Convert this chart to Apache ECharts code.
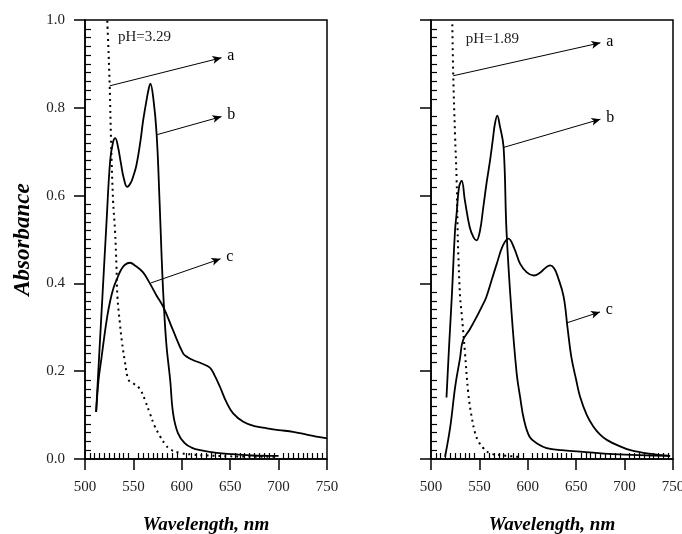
<!DOCTYPE html>
<html>
<head>
<meta charset="utf-8">
<script src="https://cdn.jsdelivr.net/npm/echarts@6/dist/echarts.min.js"></script>
<style>
  html, body { margin: 0; padding: 0; background: #fff; }
  #chart { width: 682px; height: 534px; }
</style>
</head>
<body>
<div id="chart"></div>
<script>
// tick labels / axis ranges
const xTicks = [500, 550, 600, 650, 700, 750];
const yTicks = [0.0, 0.2, 0.4, 0.6, 0.8, 1.0];

// left panel, pH=3.29
const leftA_wl  = [523, 524, 525.5, 527, 529, 531, 532.5, 533.5, 536, 538, 541, 545, 550, 555, 558, 562, 567, 572, 577.5, 583, 588, 598, 612, 626, 650, 700];
const leftA_abs = [0.998, 0.945, 0.85, 0.718, 0.589, 0.52, 0.44, 0.37, 0.31, 0.27, 0.225, 0.18, 0.172, 0.164, 0.155, 0.134, 0.104, 0.075, 0.052, 0.033, 0.022, 0.014, 0.01, 0.008, 0.006, 0.005];

const leftB_wl  = [511.5, 515, 518, 522, 526, 529, 531.3, 534, 537, 540, 543.5, 547, 550, 553, 557, 560, 563, 565.5, 567.5, 570.5, 574, 577, 579, 581, 584, 588, 591, 596, 603, 610, 619, 636, 653, 673, 700];
const leftB_abs = [0.107, 0.25, 0.37, 0.53, 0.68, 0.722, 0.731, 0.712, 0.675, 0.64, 0.62, 0.628, 0.645, 0.668, 0.72, 0.77, 0.81, 0.84, 0.855, 0.823, 0.74, 0.589, 0.47, 0.37, 0.263, 0.18, 0.104, 0.059, 0.036, 0.026, 0.02, 0.014, 0.011, 0.008, 0.007];

const leftC_wl  = [511.5, 514, 517, 520, 523, 526, 529.5, 533, 537, 541, 546.5, 552, 560, 567, 574, 581, 591, 601.5, 606, 612, 620, 629, 634, 639.5, 646, 653, 663.5, 675, 688, 700, 715, 730, 750];
const leftC_abs = [0.107, 0.18, 0.23, 0.28, 0.325, 0.36, 0.39, 0.41, 0.43, 0.442, 0.447, 0.44, 0.425, 0.4, 0.372, 0.346, 0.293, 0.24, 0.232, 0.225, 0.218, 0.208, 0.19, 0.164, 0.13, 0.104, 0.085, 0.075, 0.07, 0.066, 0.062, 0.055, 0.047];

// right panel, pH=1.89
const rightA_wl  = [522, 523, 524.8, 526.5, 527.5, 528, 530, 531.7, 535, 538.5, 542, 545.5, 549, 554, 561, 571, 590];
const rightA_abs = [0.99, 0.873, 0.74, 0.634, 0.52, 0.48, 0.37, 0.33, 0.245, 0.15, 0.096, 0.06, 0.04, 0.025, 0.013, 0.009, 0.005];

const rightB_wl  = [516, 519, 521.5, 524.8, 526.5, 529, 531.7, 535, 540, 544, 547, 550.6, 554, 557.5, 561, 564, 566, 568.5, 571, 575, 578, 583, 588.5, 592, 596, 602, 610, 619.5, 635, 654, 688, 747];
const rightB_abs = [0.14, 0.27, 0.37, 0.52, 0.56, 0.62, 0.634, 0.589, 0.528, 0.505, 0.498, 0.52, 0.573, 0.63, 0.68, 0.73, 0.763, 0.782, 0.76, 0.71, 0.52, 0.34, 0.195, 0.142, 0.09, 0.05, 0.035, 0.025, 0.02, 0.017, 0.011, 0.007];

const rightC_wl  = [514.5, 520, 525, 530, 533, 540, 547, 552, 557, 563, 568, 574, 580, 586, 592, 599, 606, 613, 619, 623, 627, 631, 637, 641, 645, 650, 654, 661, 668, 675, 682, 694, 706, 725, 747];
const rightC_abs = [0.005, 0.075, 0.165, 0.23, 0.27, 0.295, 0.323, 0.345, 0.368, 0.41, 0.445, 0.485, 0.502, 0.48, 0.445, 0.425, 0.418, 0.425, 0.437, 0.441, 0.435, 0.415, 0.37, 0.3, 0.232, 0.18, 0.142, 0.1, 0.073, 0.055, 0.043, 0.03, 0.02, 0.012, 0.007];

const font = "Liberation Serif";
const pairs = (xs, ys) => xs.map((x, i) => [x, ys[i]]);

// arrow + letter
function arrow(from, to, txt) {
  return [
    { coord: from, symbol: "none" },
    { coord: to, symbol: "arrow", label: { formatter: txt } },
  ];
}

function mainAxes(grid, withLabels) {
  const x = {
    type: "value", gridIndex: grid, min: xTicks[0], max: xTicks[xTicks.length - 1], interval: 50,
    axisLine: { lineStyle: { color: "#000", width: 1.5 } },
    axisTick: { length: 11, lineStyle: { color: "#000", width: 1.5 } },
    axisLabel: { margin: 21, fontFamily: font, fontSize: 15, color: "#222" },
    splitLine: { show: false },
    name: "Wavelength, nm", nameLocation: "middle", nameGap: 57,
    nameTextStyle: { fontFamily: font, fontSize: 19, fontWeight: "bold", fontStyle: "italic", color: "#000" },
  };
  const y = {
    type: "value", gridIndex: grid, min: yTicks[0], max: yTicks[yTicks.length - 1], interval: 0.2,
    axisLine: { show: true, lineStyle: { color: "#000", width: 1.5 } },
    axisTick: { show: true, length: 11, lineStyle: { color: "#000", width: 1.5 } },
    axisLabel: { show: withLabels, margin: 20, fontFamily: font, fontSize: 15, color: "#222",
      formatter: (v) => v.toFixed(1) },
    splitLine: { show: false },
  };
  if (withLabels) {
    y.name = "Absorbance";
    y.nameLocation = "middle";
    y.nameGap = 50;
    y.nameTextStyle = { fontFamily: font, fontSize: 23, fontWeight: "bold", fontStyle: "italic", color: "#000" };
  }
  return [x, y];
}

// second set of axes on a twin grid only to draw inward minor ticks
function minorAxes(grid) {
  const common = {
    type: "value", gridIndex: grid,
    axisLine: { show: false }, axisLabel: { show: false },
    axisTick: { show: false, inside: true },
    minorTick: { show: true, splitNumber: 10, length: 6, lineStyle: { color: "#000", width: 1.2 } },
    splitLine: { show: false },
  };
  return [
    Object.assign({}, common, { min: 500, max: 750, interval: 50 }),
    Object.assign({}, common, { min: 0, max: 1, interval: 0.2 }),
  ];
}

const L = mainAxes(0, true), Lm = minorAxes(1);
const R = mainAxes(2, false), Rm = minorAxes(3);

const gridBox = { show: true, borderColor: "#000", borderWidth: 1.5, backgroundColor: "transparent" };
const gridRect = (left) => ({ left: left, top: 20, width: 242, height: 439, containLabel: false, outerBoundsMode: "none" });

function curve(data, axis, dotted) {
  return {
    type: "line", xAxisIndex: axis, yAxisIndex: axis, data: data,
    symbol: "none", smooth: 0.4,
    lineStyle: { color: "#000", width: dotted ? 2 : 1.8, type: dotted ? [2, 4] : "solid" },
    silent: true,
  };
}

const markStyle = {
  silent: true, animation: false,
  symbolSize: [6, 9],
  lineStyle: { color: "#000", width: 1, type: "solid" },
  label: { position: "end", distance: 6, fontFamily: font, fontSize: 16, color: "#000" },
};

function phText(txt, coord) {
  return {
    silent: true, animation: false,
    symbol: "circle", symbolSize: 0,
    label: { show: true, position: "right", distance: 0, formatter: txt, fontFamily: font, fontSize: 15, color: "#222" },
    data: [{ coord: coord }],
  };
}

const leftB = curve(pairs(leftB_wl, leftB_abs), 0, false);
leftB.markLine = Object.assign({}, markStyle, { data: [
  arrow([525.5, 0.85], [641, 0.914], "a"),
  arrow([574.7, 0.739], [641, 0.78], "b"),
  arrow([568, 0.401], [640, 0.456], "c"),
] });
leftB.markPoint = phText("pH=3.29", [534, 0.962]);

const rightB = curve(pairs(rightB_wl, rightB_abs), 2, false);
rightB.markLine = Object.assign({}, markStyle, { data: [
  arrow([523, 0.873], [675, 0.948], "a"),
  arrow([575.4, 0.71], [675, 0.774], "b"),
  arrow([640.2, 0.31], [674.6, 0.335], "c"),
] });
rightB.markPoint = phText("pH=1.89", [536, 0.957]);

const option = {
  animation: false,
  backgroundColor: "#fff",
  grid: [
    Object.assign({}, gridRect(85), gridBox),
    Object.assign({}, gridRect(85), { show: false }),
    Object.assign({}, gridRect(431), gridBox),
    Object.assign({}, gridRect(431), { show: false }),
  ],
  xAxis: [L[0], Lm[0], R[0], Rm[0]],
  yAxis: [L[1], Lm[1], R[1], Rm[1]],
  series: [
    curve(pairs(leftA_wl, leftA_abs), 0, true),
    leftB,
    curve(pairs(leftC_wl, leftC_abs), 0, false),
    curve(pairs(rightA_wl, rightA_abs), 2, true),
    rightB,
    curve(pairs(rightC_wl, rightC_abs), 2, false),
  ],
};

const chart = echarts.init(document.getElementById("chart"));
chart.setOption(option);
</script>
</body>
</html>
